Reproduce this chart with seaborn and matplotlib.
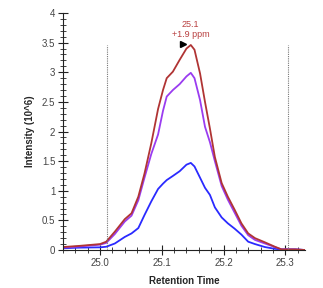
import numpy as np
import pandas as pd
import matplotlib
matplotlib.use("Agg")
import matplotlib.pyplot as plt
from matplotlib.ticker import MultipleLocator, FormatStrFormatter, FuncFormatter
import seaborn as sns

rt = [24.940, 24.967, 25.000, 25.010, 25.024, 25.040, 25.051, 25.062, 25.072, 25.083,
      25.094, 25.102, 25.108, 25.118, 25.129, 25.140, 25.147, 25.153, 25.162, 25.170,
      25.178, 25.186, 25.197, 25.207, 25.218, 25.229, 25.240, 25.251, 25.267, 25.283,
      25.294, 25.316, 25.332]
red = [0.05, 0.07, 0.10, 0.14, 0.31, 0.52, 0.62, 0.90, 1.29, 1.80,
       2.38, 2.70, 2.90, 3.01, 3.21, 3.40, 3.46, 3.38, 2.98, 2.50,
       2.05, 1.57, 1.13, 0.90, 0.68, 0.45, 0.28, 0.20, 0.13, 0.056,
       0.01, 0.01, 0.0]
purple = [0.04, 0.06, 0.09, 0.12, 0.27, 0.48, 0.58, 0.84, 1.22, 1.62,
          1.95, 2.35, 2.59, 2.70, 2.80, 2.93, 2.99, 2.90, 2.53, 2.08,
          1.82, 1.50, 1.08, 0.85, 0.63, 0.41, 0.25, 0.17, 0.11, 0.05,
          0.01, 0.01, 0.0]
blue = [0.03, 0.04, 0.045, 0.055, 0.11, 0.22, 0.28, 0.37, 0.59, 0.82,
        1.03, 1.12, 1.18, 1.25, 1.33, 1.44, 1.47, 1.41, 1.22, 1.05,
        0.93, 0.72, 0.55, 0.45, 0.36, 0.26, 0.14, 0.10, 0.05, 0.02,
        0.01, 0.01, 0.0]
boundaries = [25.011, 25.305]
peak_label = "25.1\n+1.9 ppm"
peak_rt = 25.147
peak_val = 3.46

df = pd.concat([
    pd.DataFrame({"rt": rt, "val": blue, "s": "blue"}),
    pd.DataFrame({"rt": rt, "val": purple, "s": "purple"}),
    pd.DataFrame({"rt": rt, "val": red, "s": "red"}),
])

sns.set_style("ticks")
plt.rcParams["font.family"] = ["Liberation Sans", "DejaVu Sans"]

fig = plt.figure(figsize=(3.23, 2.88), dpi=100)
ax = fig.add_axes([63/323, 38/288, 242/323, 237/288])

pal = {"blue": "#2a2aff", "purple": "#9a3cf0", "red": "#b03434"}
sns.lineplot(data=df, x="rt", y="val", hue="s", palette=pal, linewidth=1.3,
             ax=ax, legend=False, sort=False, estimator=None)

for b in boundaries:
    ax.plot([b, b], [0, peak_val], color="#777777", linestyle=(0, (1, 1)), linewidth=0.8)

ax.plot([peak_rt - 0.012], [peak_val + 0.02], marker=">", color="black", markersize=4)
ax.text(peak_rt, peak_val + 0.1, peak_label, color="#b84040", ha="center", va="bottom",
        fontsize=6.5, linespacing=1.1)

ax.set_xlim(24.94, 25.332)
ax.set_ylim(0, 4)
ax.xaxis.set_major_locator(MultipleLocator(0.1))
ax.xaxis.set_minor_locator(MultipleLocator(0.02))
ax.xaxis.set_major_formatter(FormatStrFormatter("%.1f"))
ax.yaxis.set_major_locator(MultipleLocator(0.5))
ax.yaxis.set_minor_locator(MultipleLocator(0.1))
ax.yaxis.set_major_formatter(FuncFormatter(lambda v, p: f"{v:g}"))
ax.tick_params(which="major", direction="inout", length=7, width=0.8, labelsize=7,
               labelcolor="#444444", color="#222222", pad=2)
ax.tick_params(which="minor", direction="inout", length=4, width=0.6, color="#222222")
for s in ["top", "right"]:
    ax.spines[s].set_visible(False)
for s in ["left", "bottom"]:
    ax.spines[s].set_color("#222222")
    ax.spines[s].set_linewidth(0.8)

ax.set_xlabel("Retention Time", fontsize=7, fontweight="bold")
ax.set_ylabel("Intensity (10^6)", fontsize=7, fontweight="bold")
ax.xaxis.set_label_coords(0.5, -0.11)
ax.yaxis.set_label_coords(-0.115, 0.5)

fig.savefig("out.png", dpi=100)
